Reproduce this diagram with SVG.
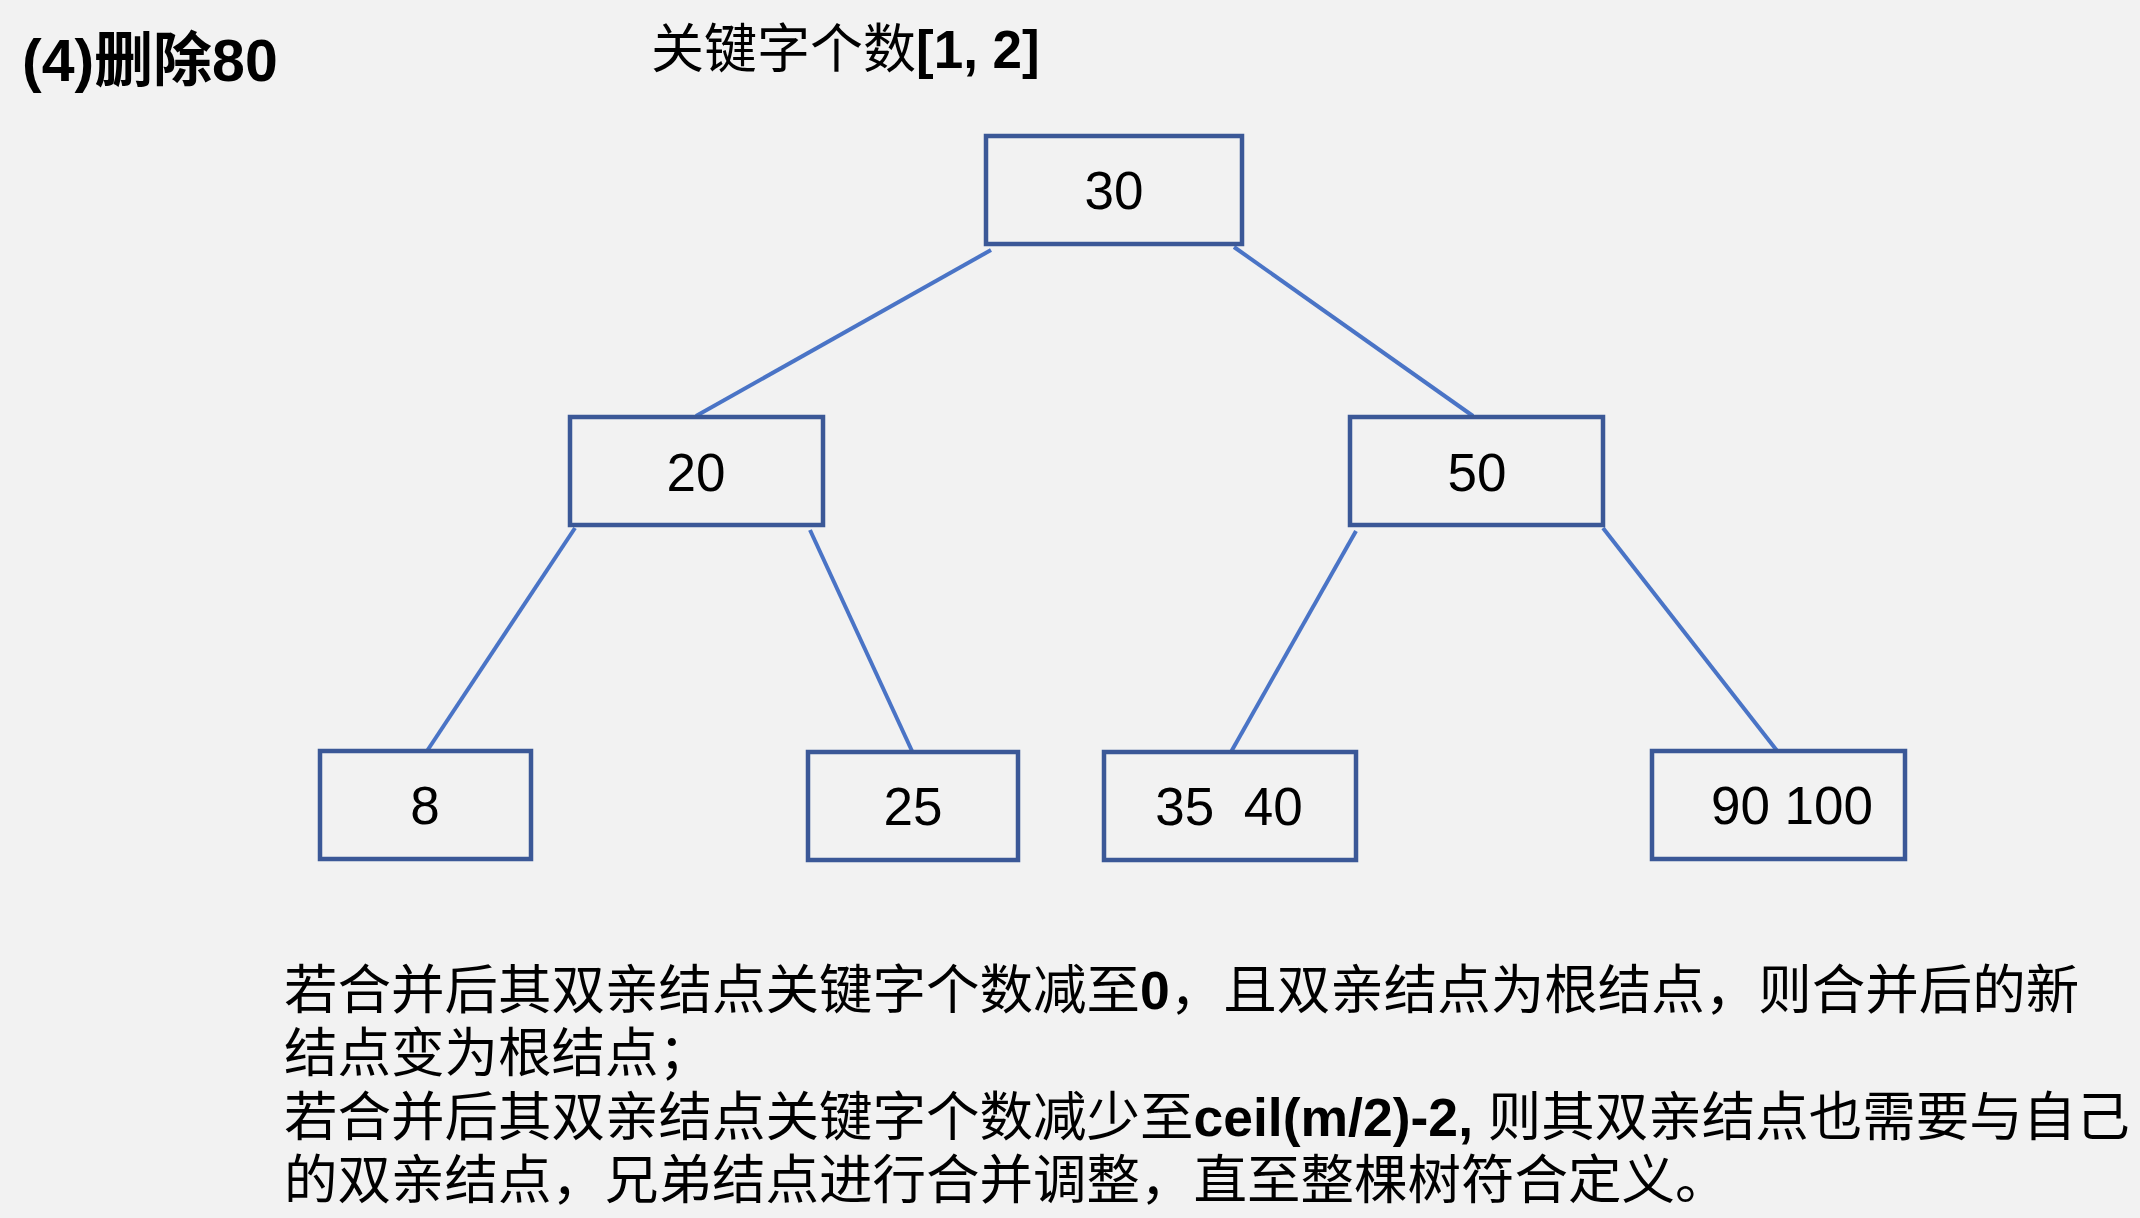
<svg xmlns="http://www.w3.org/2000/svg" width="2140" height="1218" viewBox="0 0 2140 1218">
<style>
.bg{fill:#F2F2F2}
.box{fill:#F2F2F2;stroke:#3B5897;stroke-width:4.5}
.edge{stroke:#4A74C6;stroke-width:4;fill:none;stroke-linecap:butt}
.num{font-family:"Liberation Sans",Arial,sans-serif;font-size:53px;fill:#000;text-anchor:middle}
.cjk{font-family:"Liberation Sans","Noto Sans CJK SC",sans-serif;fill:#000}
.b{font-weight:bold}
</style>
<rect class="bg" x="0" y="0" width="2140" height="1218"/>
<g id="title">
<text class="cjk b" x="22" y="81" font-size="59">(4)删除80</text>
</g>
<g id="range">
<text class="cjk" x="651" y="68" font-size="53">关键字个数<tspan class="b">[1, 2]</tspan></text>
</g>
<g id="connectors">
<line class="edge" x1="991" y1="250" x2="696" y2="416"/>
<line class="edge" x1="1234" y1="247" x2="1473" y2="416"/>
<line class="edge" x1="575" y1="528" x2="427" y2="751"/>
<line class="edge" x1="810" y1="530" x2="912" y2="751"/>
<line class="edge" x1="1356" y1="531" x2="1231" y2="752"/>
<line class="edge" x1="1603" y1="528" x2="1778" y2="752"/>
</g>
<g id="node-30">
<rect class="box" x="986" y="136" width="256" height="108"/>
<text class="num" x="1114" y="209">30</text>
</g>
<g id="node-20">
<rect class="box" x="570" y="417" width="253" height="108"/>
<text class="num" x="696" y="491">20</text>
</g>
<g id="node-50">
<rect class="box" x="1350" y="417" width="253" height="108"/>
<text class="num" x="1477" y="491">50</text>
</g>
<g id="node-8">
<rect class="box" x="320" y="751" width="211" height="108"/>
<text class="num" x="425" y="824">8</text>
</g>
<g id="node-25">
<rect class="box" x="808" y="752" width="210" height="108"/>
<text class="num" x="913" y="825">25</text>
</g>
<g id="node-35-40">
<rect class="box" x="1104" y="752" width="252" height="108"/>
<text class="num" x="1229" y="825" xml:space="preserve">35  40</text>
</g>
<g id="node-90-100">
<rect class="box" x="1652" y="751" width="253" height="108"/>
<text class="num" x="1792" y="824">90 100</text>
</g>
<g id="note">
<text class="cjk" x="284" y="1009" font-size="53.5">若合并后其双亲结点关键字个数减至<tspan class="b">0</tspan>，且双亲结点为根结点，则合并后的新</text>
<text class="cjk" x="284" y="1072" font-size="53.5">结点变为根结点；</text>
<text class="cjk" x="284" y="1136" font-size="53.5" xml:space="preserve">若合并后其双亲结点关键字个数减少至<tspan class="b">ceil(m/2)-2, </tspan>则其双亲结点也需要与自己</text>
<text class="cjk" x="284" y="1199" font-size="53.5">的双亲结点，兄弟结点进行合并调整，直至整棵树符合定义。</text>
</g>
</svg>
